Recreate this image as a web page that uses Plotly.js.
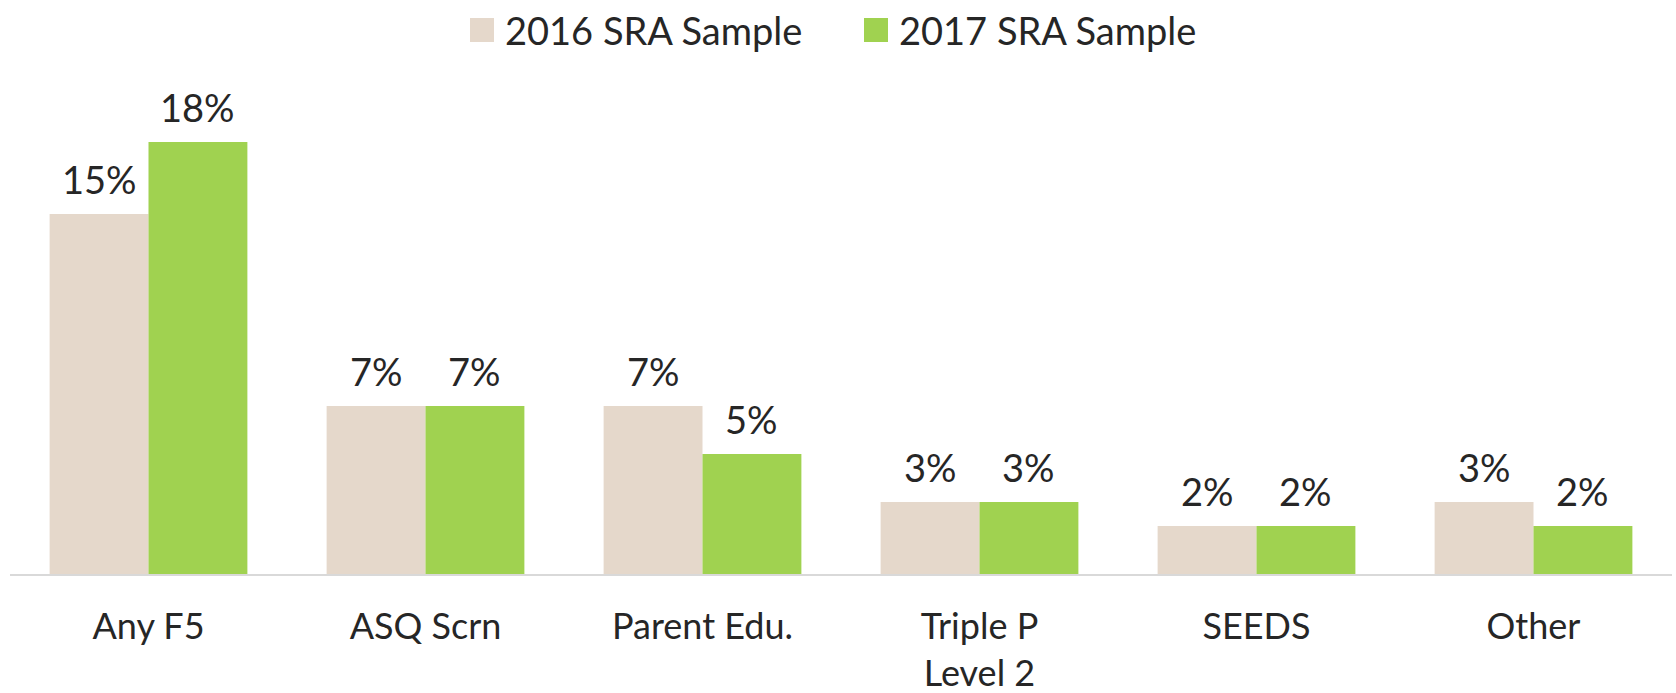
<!DOCTYPE html>
<html>
<head>
<meta charset="utf-8">
<script src="https://cdn.plot.ly/plotly-3.0.1.min.js"></script>
<style>html,body{margin:0;padding:0;background:#fff;}#chart{width:1676px;height:693px;}</style>
</head>
<body>
<div id="chart"></div>
<script>
const categories = ["Any F5", "ASQ Scrn", "Parent Edu.", "Triple P<br>Level 2", "SEEDS", "Other"];
const seriesNames = ["2016 SRA Sample", "2017 SRA Sample"];
const values2016 = [0.15, 0.07, 0.07, 0.03, 0.02, 0.03];
const values2017 = [0.18, 0.07, 0.05, 0.03, 0.02, 0.02];
const colors = ["#E5D8CB", "#A0D250"];

const FONT = "Lato, 'Open Sans', sans-serif";
const TXT = "#262626";
const FS = 38;

function barTrace(name, vals, color) {
  return {
    type: "bar",
    name: name,
    x: categories,
    y: vals,
    marker: {color: color},
    hoverinfo: "skip",
    showlegend: false
  };
}

const allSeries = [values2016, values2017];
const data = [
  barTrace(seriesNames[0], values2016, colors[0]),
  barTrace(seriesNames[1], values2017, colors[1])
];

const shapes = [];
const annotations = [];

// value labels above each bar
const halfBar = 49.4;
allSeries.forEach((vals, i) => {
  vals.forEach((v, j) => {
    annotations.push({
      x: categories[j], y: v, xref: "x", yref: "y",
      xshift: (i === 0 ? -1 : 1) * halfBar, yshift: 10,
      xanchor: "center", yanchor: "bottom", showarrow: false,
      text: Math.round(v * 100) + "%",
      font: {family: FONT, size: FS, color: TXT}
    });
  });
});

// custom legend (larger swatches like the reference)
const legendX = [470, 864];
seriesNames.forEach((n, i) => {
  shapes.push({type: "rect", xref: "paper", yref: "paper",
    x0: (legendX[i] - 10) / 1662, x1: (legendX[i] - 10 + 24) / 1662,
    y0: (574 - 42) / 514, y1: (574 - 18) / 514,
    fillcolor: colors[i], line: {width: 0}});
  annotations.push({xref: "paper", yref: "paper",
    x: (legendX[i] - 10 + 33) / 1662, y: (574 - 30) / 514,
    xanchor: "left", yanchor: "middle", showarrow: false,
    text: n, font: {family: FONT, size: FS, color: TXT}});
});

const layout = {
  width: 1676, height: 693,
  margin: {l: 10, r: 4, t: 60, b: 119},
  paper_bgcolor: "#ffffff", plot_bgcolor: "#ffffff",
  barmode: "group", bargap: 0.286, bargroupgap: 0,
  showlegend: false,
  font: {family: FONT, size: FS, color: TXT},
  xaxis: {
    type: "category",
    showline: true, linecolor: "#D9D9D9", linewidth: 2,
    ticks: "", showgrid: false, zeroline: false,
    tickfont: {family: FONT, size: 36, color: TXT},
    ticklabelstandoff: 20,
    fixedrange: true
  },
  yaxis: {
    range: [0, 514 / 24 / 100],
    visible: false, showgrid: false, zeroline: false, fixedrange: true
  },
  shapes: shapes,
  annotations: annotations
};

Plotly.newPlot("chart", data, layout, {displayModeBar: false, staticPlot: true});
</script>
</body>
</html>
